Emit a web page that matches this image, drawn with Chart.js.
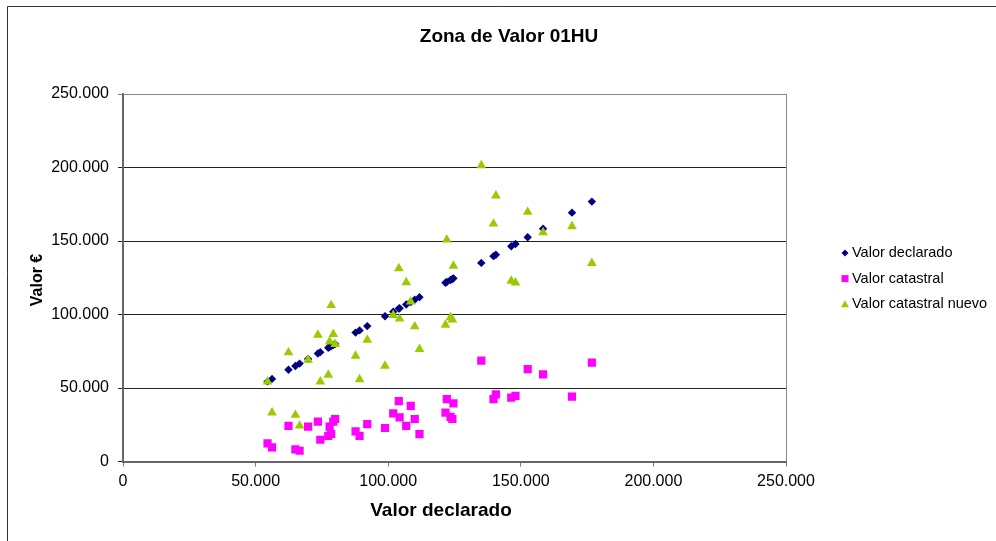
<!DOCTYPE html>
<html lang="es">
<head>
    <meta charset="UTF-8">
    <title>Zona de Valor 01HU</title>
    <script src="https://cdn.jsdelivr.net/npm/chart.js"></script>
    <style>
        body {
            margin: 0;
            background: #fff;
        }
        #grafico {
            display: block;
        }
    </style>
</head>
<body>

<canvas id="grafico" width="996" height="541"></canvas>

<script>
    // valores en euros, un elemento por inmueble
    const valorDeclarado = [54500, 56200, 62400, 65000, 66600, 69800, 73500, 74400, 77400, 77900,
        78500, 79300, 80000, 87700, 89200, 92100, 98800, 101900, 104000, 104300,
        106800, 108500, 110000, 111800, 121600, 122100, 123500, 124200, 124600, 135100,
        139700, 140600, 146400, 148000, 152600, 158400, 169300, 176800];
    const valorCatastral = [12300, 9600, 24300, 8200, 7300, 23700, 27100, 14800, 17500, 23700,
        18700, 27100, 28900, 20500, 17500, 25400, 22800, 32800, 41100, 30000,
        24300, 37800, 28900, 18600, 33200, 42500, 30400, 28900, 39600, 68600,
        42500, 45700, 43400, 44600, 62900, 59300, 44100, 67200];
    const valorCatastralNuevo = [54300, 33200, 74100, 31600, 24300, 69100, 86100, 54300, 58900, 81500,
        106300, 86600, 79800, 71800, 55900, 82700, 65000, 99600, 131400, 97100,
        121800, 108700, 91800, 76400, 92900, 150800, 98000, 96500, 133100, 201400,
        161700, 180800, 122900, 121700, 169700, 155800, 159900, 134900];

    const nombresSeries = ["Valor declarado", "Valor catastral", "Valor catastral nuevo"];
    const coloresSeries = ["#000080", "#FF00FF", "#99CC00"];
    const marcadores = ["rectRot", "rect", "triangle"];
    const ejeMin = 0, ejeMax = 250000, ejePaso = 50000;

    const FUENTE = "'Liberation Sans', Arial, sans-serif";

    function formatoMiles(v) {
        return String(v).replace(/\B(?=(\d{3})+(?!\d))/g, ".");
    }

    function puntos(ys) {
        return valorDeclarado.map((x, i) => ({ x: x, y: ys[i] }));
    }

    function marca(ctx, tipo, x, y, color) {
        ctx.fillStyle = color;
        ctx.beginPath();
        if (tipo === "rectRot") {
            ctx.moveTo(x, y - 3.5); ctx.lineTo(x + 3.5, y); ctx.lineTo(x, y + 3.5); ctx.lineTo(x - 3.5, y);
        } else if (tipo === "rect") {
            ctx.rect(x - 3.5, y - 3.5, 7, 7);
        } else {
            ctx.moveTo(x, y - 4); ctx.lineTo(x + 4, y + 3); ctx.lineTo(x - 4, y + 3);
        }
        ctx.closePath();
        ctx.fill();
    }

    // marco, titulos y leyenda al estilo de la hoja de calculo
    const decorado = {
        id: "decorado",
        beforeDatasetsDraw(chart) {
            const ctx = chart.ctx, a = chart.chartArea;
            ctx.save();
            ctx.strokeStyle = "#888";
            ctx.lineWidth = 1;
            ctx.beginPath();
            ctx.moveTo(Math.round(a.right) + 0.5, a.top);
            ctx.lineTo(Math.round(a.right) + 0.5, a.bottom);
            ctx.stroke();
            ctx.restore();
        },
        afterDraw(chart) {
            const ctx = chart.ctx;
            ctx.save();
            // borde exterior (solo izquierda y arriba quedan en la imagen)
            ctx.strokeStyle = "#333";
            ctx.lineWidth = 1;
            ctx.beginPath();
            ctx.moveTo(7.5, 541);
            ctx.lineTo(7.5, 6.5);
            ctx.lineTo(996, 6.5);
            ctx.stroke();

            ctx.fillStyle = "#000";
            ctx.textAlign = "center";
            ctx.textBaseline = "middle";
            ctx.font = "bold 19px " + FUENTE;
            ctx.fillText("Zona de Valor 01HU", 509, 37);

            ctx.font = "bold 19px " + FUENTE;
            ctx.fillText("Valor declarado", 441, 511);

            ctx.font = "bold 16px " + FUENTE;
            ctx.save();
            ctx.translate(38, 280);
            ctx.rotate(-Math.PI / 2);
            ctx.fillText("Valor €", 0, 0);
            ctx.restore();

            ctx.textAlign = "left";
            ctx.font = "14.5px " + FUENTE;
            nombresSeries.forEach((n, i) => {
                const y = 253 + i * 25.6;
                marca(ctx, marcadores[i], 845, y, coloresSeries[i]);
                ctx.fillStyle = "#000";
                ctx.fillText(n, 852, y);
            });
            ctx.restore();
        }
    };

    const series = [valorDeclarado, valorCatastral, valorCatastralNuevo];
    const radios = [4.2, 5.8, 5.6];

    new Chart(document.getElementById("grafico"), {
        type: "scatter",
        data: {
            datasets: series.map((ys, i) => ({
                label: nombresSeries[i],
                data: puntos(ys),
                pointStyle: marcadores[i],
                pointRadius: radios[i],
                pointHoverRadius: radios[i],
                backgroundColor: coloresSeries[i],
                borderColor: coloresSeries[i],
                borderWidth: 0,
                order: 2 - i
            }))
        },
        options: {
            responsive: false,
            animation: false,
            layout: { padding: { top: 94, right: 210, left: 0, bottom: 0 } },
            plugins: {
                legend: { display: false },
                title: { display: false },
                tooltip: { enabled: false }
            },
            scales: {
                x: {
                    type: "linear",
                    min: ejeMin,
                    max: ejeMax,
                    afterFit(s) { s.height = 79.5; },
                    ticks: {
                        stepSize: ejePaso,
                        padding: 5,
                        color: "#000",
                        maxRotation: 0,
                        font: { family: FUENTE, size: 16 },
                        callback: v => formatoMiles(v)
                    },
                    grid: {
                        drawOnChartArea: false,
                        drawTicks: true,
                        tickLength: 5,
                        color: "#777"
                    },
                    border: { color: "#666", width: 2 }
                },
                y: {
                    type: "linear",
                    min: ejeMin,
                    max: ejeMax,
                    afterFit(s) { s.width = 123; },
                    ticks: {
                        stepSize: ejePaso,
                        padding: 9,
                        color: "#000",
                        font: { family: FUENTE, size: 16 },
                        callback: v => formatoMiles(v)
                    },
                    grid: {
                        tickLength: 5,
                        color: c => c.tick && c.tick.value === ejeMax ? "#888" : "#222",
                        lineWidth: 1
                    },
                    border: { color: "#666", width: 2 }
                }
            }
        },
        plugins: [decorado]
    });
</script>

</body>
</html>
